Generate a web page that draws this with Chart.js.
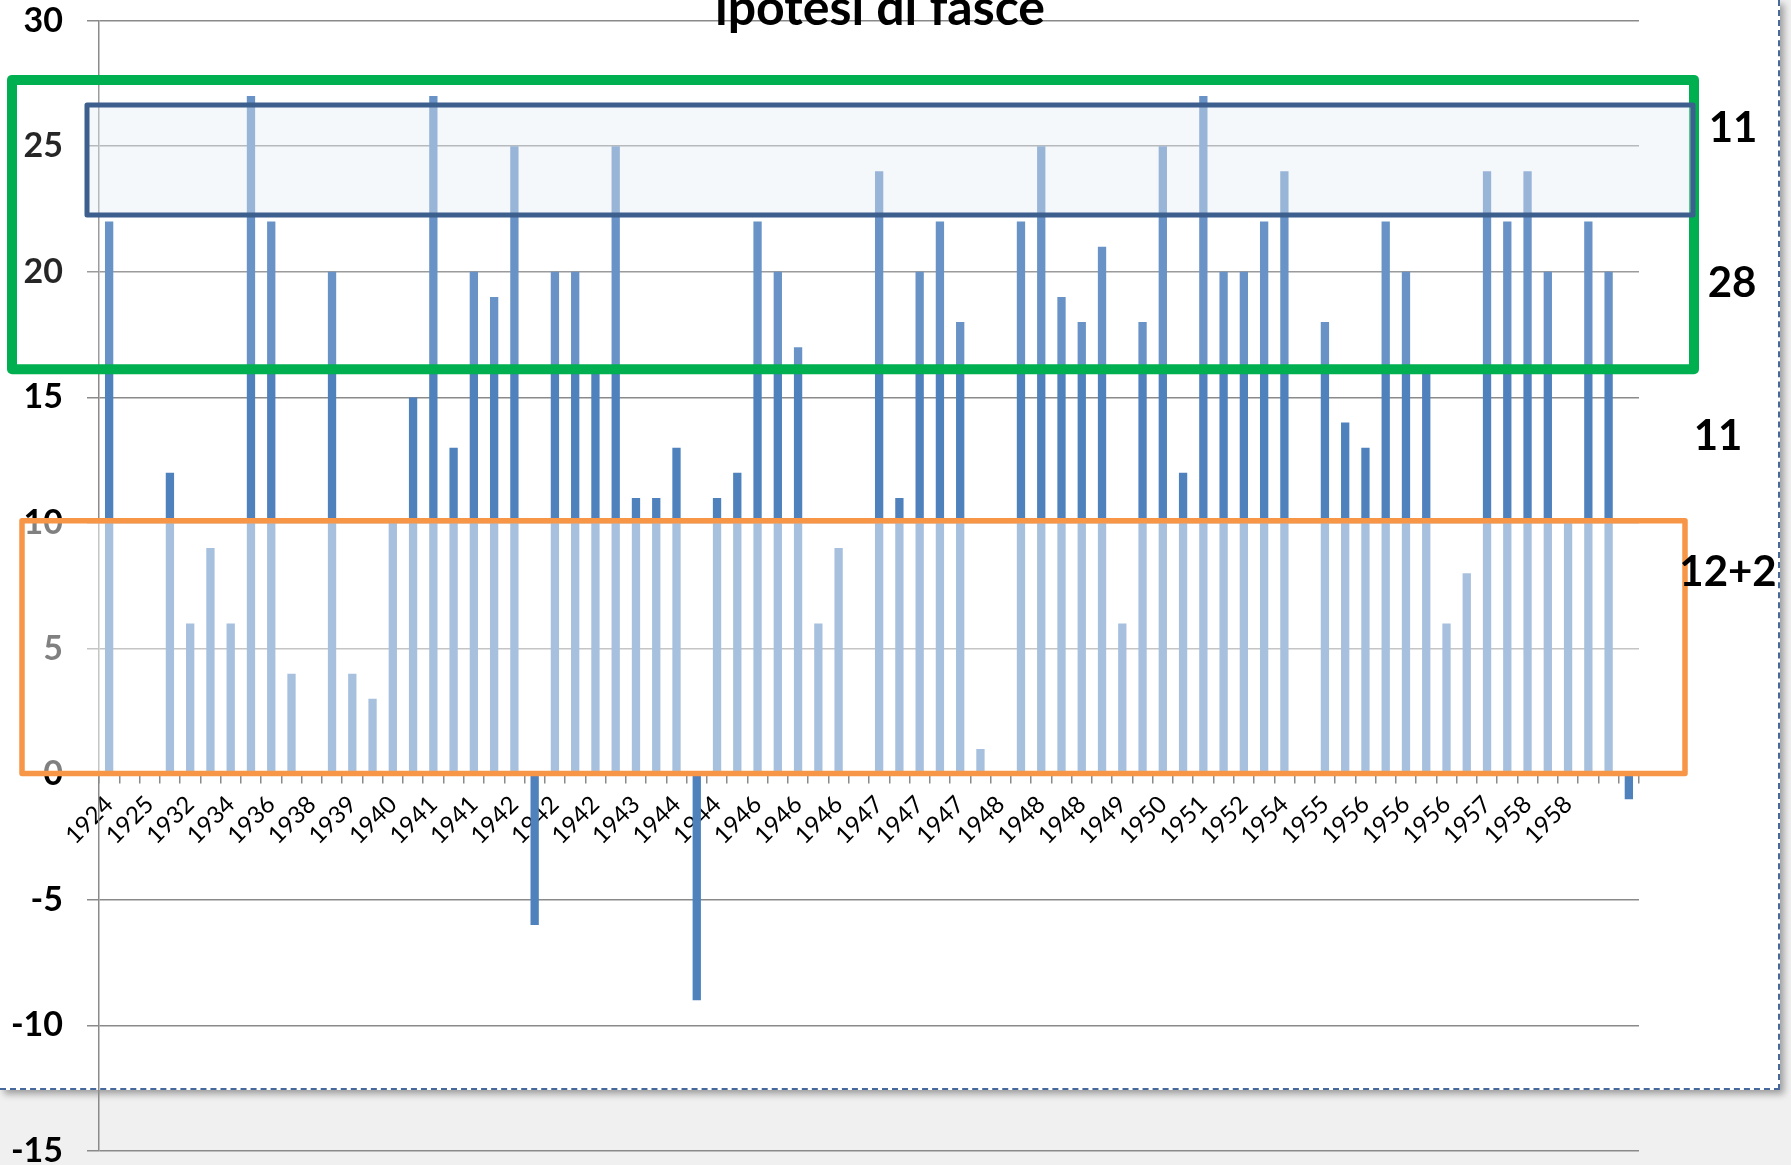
<!DOCTYPE html>
<html>
<head>
<meta charset="utf-8">
<title>ipotesi di fasce</title>
<script src="https://cdn.jsdelivr.net/npm/chart.js@4.4.1/dist/chart.umd.min.js"></script>
<style>
    html, body { margin: 0; padding: 0; overflow: hidden; background: #f0f0f0; }
    #sheet {
        position: absolute; left: 0; top: 0;
        width: 1778px; height: 1088px; background: #ffffff;
        border-right: 2px dashed #46689a; border-bottom: 2px dashed #46689a;
        box-shadow: 4px 4px 7px rgba(0, 0, 0, 0.35);
    }
    #chart { position: absolute; left: 0; top: 0; }
</style>
</head>
<body>
<div id="sheet"></div>
<canvas id="chart" width="1791" height="1200"></canvas>
<script>
// labels shown on the x axis (Excel shows one category out of two)
const yearLabels = ["1924", "1925", "1932", "1934", "1936", "1938", "1939", "1940", "1941", "1941",
    "1942", "1942", "1942", "1943", "1944", "1944", "1946", "1946", "1946", "1947",
    "1947", "1947", "1948", "1948", "1948", "1949", "1950", "1951", "1952", "1954",
    "1955", "1956", "1956", "1956", "1957", "1958", "1958"];

// one value per category, null = empty cell
const values = [22, null, null, 12, 6, 9, 6, 27, 22, 4,
    null, 20, 4, 3, 10, 15, 27, 13, 20, 19,
    25, -6, 20, 20, 16, 25, 11, 11, 13, -9,
    11, 12, 22, 20, 17, 6, 9, null, 24, 11,
    20, 22, 18, 1, null, 22, 25, 19, 18, 21,
    6, 18, 25, 12, 27, 20, 20, 22, 24, null,
    18, 14, 13, 22, 20, 16, 6, 8, 24, 22,
    24, 20, 10, 22, 20, -1];

const yTicks = [-15, -10, -5, 0, 5, 10, 15, 20, 25, 30];

// counts written next to each band
const bandCounts = ["11", "28", "11", "12+2"];
const chartTitle = "ipotesi di fasce";

const categories = values.map((v, i) => (i % 2 === 0 && yearLabels[i / 2]) ? yearLabels[i / 2] : "");

// the hand drawn rectangles (y in data units, x in pixels)
const bands = [
    { from: 27.64, to: 16.12, left: 12, right: 1694, line: 10, stroke: "#00b050", fill: "rgba(255,255,255,0.15)" },
    { from: 26.64, to: 22.26, left: 87, right: 1693, line: 5, stroke: "#3c5f8e", fill: "rgba(229,237,245,0.38)" },
    { from: 10.09, to: 0.03, left: 22, right: 1685, line: 5.5, stroke: "#f79646", fill: "rgba(255,255,255,0.5)" }
];
const countSpots = [[1733, 142], [1732, 297], [1718, 450], [1728, 586]];

const grey = "#8a8a8a";

const fascePlugin = {
    id: "fasce",
    afterDraw: (chart) => {
        const ctx = chart.ctx;
        const y = chart.scales.y;
        bands.forEach((b) => {
            const top = y.getPixelForValue(b.from);
            const bottom = y.getPixelForValue(b.to);
            ctx.save();
            ctx.fillStyle = b.fill;
            ctx.fillRect(b.left, top, b.right - b.left, bottom - top);
            ctx.lineWidth = b.line;
            ctx.lineJoin = "round";
            ctx.strokeStyle = b.stroke;
            ctx.strokeRect(b.left, top, b.right - b.left, bottom - top);
            ctx.restore();
        });

        ctx.save();
        ctx.fillStyle = "#000000";
        ctx.textAlign = "center";
        ctx.textBaseline = "alphabetic";
        ctx.font = "bold 42px Lato";
        bandCounts.forEach((txt, i) => {
            ctx.fillText(txt, countSpots[i][0], countSpots[i][1]);
        });
        ctx.font = "bold 50px Lato";
        ctx.fillText(chartTitle, 880, 25);
        ctx.restore();
    }
};

const ctx = document.getElementById("chart");
new Chart(ctx, {
    type: "bar",
    data: {
        labels: categories,
        datasets: [
            {
                label: "valori",
                data: values,
                backgroundColor: "#4f81bd",
                borderWidth: 0,
                barPercentage: 0.41,
                categoryPercentage: 1
            }
        ]
    },
    options: {
        responsive: false,
        animation: false,
        layout: {
            padding: { left: 0, top: 20.6, right: 152, bottom: 49 }
        },
        plugins: {
            legend: { display: false },
            tooltip: { enabled: false },
            title: { display: false }
        },
        scales: {
            x: {
                position: { y: 0 },
                offset: true,
                grid: {
                    offset: true,
                    drawOnChartArea: false,
                    drawTicks: true,
                    tickLength: 9,
                    color: grey,
                    lineWidth: 1.5
                },
                border: { display: true, color: grey, width: 1.5 },
                ticks: {
                    autoSkip: false,
                    maxRotation: 45,
                    minRotation: 45,
                    padding: 7,
                    color: "#000000",
                    font: { family: "Lato", size: 24 }
                }
            },
            y: {
                min: -15,
                max: 30,
                afterFit: (scale) => {
                    // fixed axis width, no extra room for the end labels
                    scale.width = 99;
                    scale.paddingTop = 0;
                    scale.paddingBottom = 0;
                },
                afterBuildTicks: (scale) => { scale.ticks = yTicks.map((v) => ({ value: v })); },
                grid: {
                    color: grey,
                    lineWidth: 1.5,
                    tickLength: 12
                },
                border: { display: true, color: grey, width: 1.5 },
                ticks: {
                    padding: 24,
                    color: "#000000",
                    font: { family: "Lato", size: 34, weight: "bold" }
                }
            }
        }
    },
    plugins: [fascePlugin]
});
</script>
</body>
</html>
